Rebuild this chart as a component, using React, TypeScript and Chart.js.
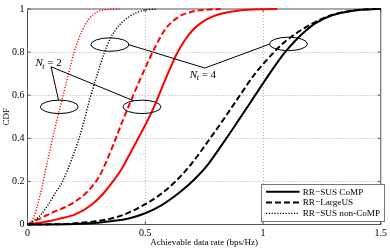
import React, { useEffect, useRef } from "react";
import { Chart, registerables } from "chart.js";

Chart.register(...registerables);

const FONT = '"Liberation Serif", "Times New Roman", Times, serif';

// Nt = 2 (red)
const red2CompX = [0, 0.05, 0.1, 0.135, 0.205, 0.275, 0.324, 0.366, 0.4, 0.43, 0.47, 0.505, 0.535, 0.56, 0.585, 0.61, 0.633, 0.668, 0.7, 0.74, 0.78, 0.83, 0.9, 1.0, 1.06];
const red2CompY = [0, 0.008, 0.017, 0.026, 0.048, 0.094, 0.146, 0.205, 0.258, 0.318, 0.4, 0.472, 0.54, 0.605, 0.672, 0.735, 0.79, 0.855, 0.9, 0.938, 0.962, 0.98, 0.993, 0.999, 1];
const red2LargeX = [0, 0.05, 0.107, 0.177, 0.247, 0.303, 0.338, 0.366, 0.4, 0.43, 0.455, 0.485, 0.514, 0.535, 0.549, 0.584, 0.64, 0.7, 0.76, 0.82];
const red2LargeY = [0, 0.026, 0.056, 0.09, 0.145, 0.22, 0.3, 0.375, 0.47, 0.55, 0.615, 0.69, 0.76, 0.808, 0.838, 0.905, 0.962, 0.988, 0.997, 1];
const red2NonX = [0, 0.01, 0.025, 0.05, 0.086, 0.124, 0.142, 0.153, 0.163, 0.177, 0.198, 0.219, 0.233, 0.261, 0.303, 0.35, 0.39];
const red2NonY = [0, 0.004, 0.03, 0.12, 0.3, 0.48, 0.56, 0.606, 0.652, 0.712, 0.8, 0.865, 0.902, 0.953, 0.99, 0.998, 1];

// Nt = 4 (black)
const blk4CompX = [0, 0.2, 0.3, 0.345, 0.43, 0.5, 0.57, 0.626, 0.682, 0.724, 0.766, 0.837, 0.9, 0.97, 1.033, 1.092, 1.145, 1.18, 1.22, 1.29, 1.37, 1.45, 1.5];
const blk4CompY = [0, 0.002, 0.008, 0.014, 0.028, 0.052, 0.09, 0.132, 0.182, 0.226, 0.278, 0.388, 0.49, 0.605, 0.708, 0.797, 0.862, 0.898, 0.932, 0.97, 0.99, 0.998, 1];
const blk4LargeX = [0, 0.15, 0.25, 0.345, 0.415, 0.485, 0.556, 0.626, 0.697, 0.766, 0.837, 0.893, 0.963, 1.047, 1.082, 1.145, 1.216, 1.286, 1.37, 1.45, 1.5];
const blk4LargeY = [0, 0.002, 0.01, 0.025, 0.048, 0.085, 0.133, 0.197, 0.283, 0.385, 0.495, 0.585, 0.695, 0.8, 0.838, 0.89, 0.936, 0.97, 0.991, 0.999, 1];
const blk4NonX = [0, 0.03, 0.06, 0.093, 0.12, 0.149, 0.19, 0.219, 0.24, 0.265, 0.296, 0.324, 0.35, 0.375, 0.405, 0.43, 0.46, 0.5, 0.55];
const blk4NonY = [0, 0.02, 0.05, 0.1, 0.15, 0.2, 0.31, 0.4, 0.48, 0.585, 0.695, 0.79, 0.86, 0.905, 0.942, 0.963, 0.982, 0.995, 1];

const xTicks = [0, 0.5, 1, 1.5];
const yTicks = [0, 0.2, 0.4, 0.6, 0.8, 1];
const legendLabels = ["RR\u2212SUS CoMP", "RR\u2212LargeUS", "RR\u2212SUS non-CoMP"];
const xTitle = "Achievable data rate (bps/Hz)";
const yTitle = "CDF";
const groupValues = ["2", "4"];

const RED = "#ff0000";
const BLACK = "#000000";
const SOLID: number[] = [];
const DASH = [6, 3];
const DOT = [1.2, 1.6];

const pts = (xs: number[], ys: number[]) => xs.map((x, i) => ({ x, y: ys[i] }));

function drawNt(ctx: CanvasRenderingContext2D, x: number, baseline: number, value: string) {
  ctx.fillStyle = "#000";
  ctx.textBaseline = "alphabetic";
  ctx.textAlign = "left";
  ctx.font = `italic 11px ${FONT}`;
  ctx.fillText("N", x, baseline);
  let w = ctx.measureText("N").width;
  ctx.font = `italic 8px ${FONT}`;
  ctx.fillText("t", x + w - 0.5, baseline + 2.5);
  w += ctx.measureText("t").width - 0.5;
  ctx.font = `11px ${FONT}`;
  ctx.fillText(" = " + value, x + w, baseline);
}

const decor = {
  id: "decor",
  beforeDatasetsDraw(chart: any) {
    const { ctx, chartArea: a, scales } = chart;
    const sx = scales.x;
    const sy = scales.y;
    ctx.save();
    ctx.strokeStyle = "#b0b0b0";
    ctx.lineWidth = 1;
    ctx.setLineDash([1, 2]);
    for (const v of xTicks.slice(1, -1)) {
      const px = Math.round(sx.getPixelForValue(v)) + 0.5;
      ctx.beginPath();
      ctx.moveTo(px, a.top);
      ctx.lineTo(px, a.bottom);
      ctx.stroke();
    }
    for (const v of yTicks.slice(1, -1)) {
      const py = Math.round(sy.getPixelForValue(v)) + 0.5;
      ctx.beginPath();
      ctx.moveTo(a.left, py);
      ctx.lineTo(a.right, py);
      ctx.stroke();
    }
    ctx.setLineDash([]);
    ctx.strokeStyle = "#555";
    ctx.lineWidth = 1;
    ctx.strokeRect(a.left, a.top, a.right - a.left, a.bottom - a.top);
    const tl = 3;
    ctx.beginPath();
    for (const v of xTicks) {
      const px = sx.getPixelForValue(v);
      ctx.moveTo(px, a.bottom);
      ctx.lineTo(px, a.bottom - tl);
      ctx.moveTo(px, a.top);
      ctx.lineTo(px, a.top + tl);
    }
    for (const v of yTicks) {
      const py = sy.getPixelForValue(v);
      ctx.moveTo(a.left, py);
      ctx.lineTo(a.left + tl, py);
      ctx.moveTo(a.right, py);
      ctx.lineTo(a.right - tl, py);
    }
    ctx.stroke();
    ctx.restore();
  },
  afterDatasetsDraw(chart: any) {
    const { ctx, chartArea: a, scales } = chart;
    const sx = scales.x;
    const sy = scales.y;
    const P = (x: number, y: number) => [sx.getPixelForValue(x), sy.getPixelForValue(y)];
    ctx.save();
    ctx.strokeStyle = "#000";
    ctx.lineWidth = 1;
    const ellipses = [
      [0.135, 0.546],
      [0.486, 0.546],
      [0.35, 0.835],
      [1.108, 0.838],
    ];
    for (const [ex, ey] of ellipses) {
      const [cx, cy] = P(ex, ey);
      ctx.beginPath();
      ctx.ellipse(cx, cy, 19, 6.7, 0, 0, Math.PI * 2);
      ctx.stroke();
    }
    const v2 = P(0.0999, 0.732);
    const v4 = P(0.753, 0.726);
    const lines = [
      [v2, P(0.132, 0.576)],
      [v2, P(0.451, 0.574)],
      [v4, P(0.428, 0.835)],
      [v4, P(1.028, 0.837)],
    ];
    ctx.beginPath();
    for (const [p, q] of lines) {
      ctx.moveTo(p[0], p[1]);
      ctx.lineTo(q[0], q[1]);
    }
    ctx.stroke();
    drawNt(ctx, v2[0] - 15.5, v2[1] - 0.5, groupValues[0]);
    drawNt(ctx, v4[0] - 15, v4[1] + 9.5, groupValues[1]);

    // legend
    const lx = 261.5, ly = 184.5, lw = 123, lh = 37;
    ctx.fillStyle = "#fff";
    ctx.fillRect(lx, ly, lw, lh);
    ctx.strokeStyle = "#777";
    ctx.lineWidth = 1;
    ctx.strokeRect(lx, ly, lw, lh);
    const styles = [
      { dash: SOLID, w: 2 },
      { dash: DASH, w: 2 },
      { dash: DOT, w: 1.3 },
    ];
    ctx.font = `9.2px ${FONT}`;
    ctx.textBaseline = "middle";
    ctx.textAlign = "left";
    legendLabels.forEach((lab, i) => {
      const yy = 191.7 + i * 10.8;
      ctx.strokeStyle = "#000";
      ctx.lineWidth = styles[i].w;
      ctx.setLineDash(styles[i].dash);
      ctx.beginPath();
      ctx.moveTo(266, yy);
      ctx.lineTo(299.5, yy);
      ctx.stroke();
      ctx.setLineDash([]);
      ctx.fillStyle = "#000";
      ctx.fillText(lab, 302.7, yy + 0.5);
    });

    // axis titles
    ctx.font = `9px ${FONT}`;
    ctx.fillStyle = "#000";
    ctx.textAlign = "center";
    ctx.textBaseline = "middle";
    ctx.fillText(xTitle, (a.left + a.right) / 2, 242.5);
    ctx.save();
    ctx.translate(6.5, (a.top + a.bottom) / 2);
    ctx.rotate(-Math.PI / 2);
    ctx.fillText(yTitle, 0, 0);
    ctx.restore();
    ctx.restore();
  },
};

export default function App() {
  const ref = useRef<HTMLCanvasElement | null>(null);
  useEffect(() => {
    document.body.style.margin = "0";
    const canvas = ref.current;
    if (!canvas) return;
    const mk = (label: string, xs: number[], ys: number[], color: string, dash: number[], w: number) => ({
      label,
      data: pts(xs, ys),
      borderColor: color,
      backgroundColor: color,
      borderWidth: w,
      borderDash: dash,
      pointRadius: 0,
      fill: false,
      cubicInterpolationMode: "monotone" as const,
      clip: 3,
    });
    const chart = new Chart(canvas, {
      type: "line",
      data: {
        datasets: [
          mk("Nt=4 " + legendLabels[2], blk4NonX, blk4NonY, BLACK, DOT, 1.4),
          mk("Nt=2 " + legendLabels[2], red2NonX, red2NonY, RED, DOT, 1.4),
          mk("Nt=4 " + legendLabels[1], blk4LargeX, blk4LargeY, BLACK, DASH, 2),
          mk("Nt=4 " + legendLabels[0], blk4CompX, blk4CompY, BLACK, SOLID, 2),
          mk("Nt=2 " + legendLabels[1], red2LargeX, red2LargeY, RED, DASH, 2),
          mk("Nt=2 " + legendLabels[0], red2CompX, red2CompY, RED, SOLID, 2),
        ],
      },
      options: {
        responsive: false,
        animation: false,
        devicePixelRatio: 1,
        layout: { padding: { left: 0, top: 2.5, right: 5.5, bottom: 0 } },
        plugins: { legend: { display: false }, tooltip: { enabled: false }, title: { display: false } },
        scales: {
          x: {
            type: "linear",
            min: 0,
            max: 1.5,
            afterFit: (s: any) => { s.height = 24.5; },
            afterBuildTicks: (s: any) => { s.ticks = xTicks.map((v) => ({ value: v })); },
            grid: { display: false, drawTicks: false },
            border: { display: false },
            ticks: {
              padding: 3,
              color: "#000",
              font: { family: FONT, size: 10 },
              maxRotation: 0,
              callback: (v: any) => String(Number(v)),
            },
          },
          y: {
            type: "linear",
            min: 0,
            max: 1,
            afterFit: (s: any) => { s.width = 27.5; },
            afterBuildTicks: (s: any) => { s.ticks = yTicks.map((v) => ({ value: v })); },
            grid: { display: false, drawTicks: false },
            border: { display: false },
            ticks: {
              padding: 3,
              color: "#000",
              font: { family: FONT, size: 10 },
              callback: (v: any) => String(Number(v)),
            },
          },
        },
      },
      plugins: [decor],
    });
    return () => chart.destroy();
  }, []);
  return <canvas ref={ref} width={390} height={249} style={{ display: "block", width: 390, height: 249 }} />;
}
